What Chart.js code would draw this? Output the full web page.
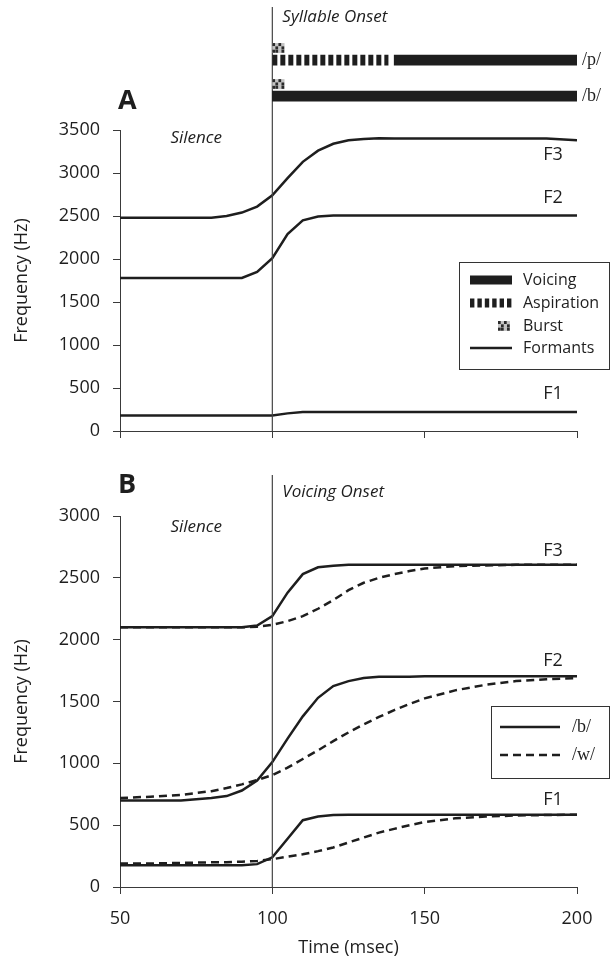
<!DOCTYPE html>
<html>
<head>
<meta charset="utf-8">
<script src="https://cdn.jsdelivr.net/npm/chart.js@4.4.1/dist/chart.umd.min.js"></script>
<style>
  html, body { margin: 0; padding: 0; background: #ffffff; }
  #wrap { position: relative; width: 612px; height: 972px; overflow: hidden; }
  #wrap canvas { position: absolute; left: 0; }
</style>
</head>
<body>
<div id="wrap">
  <canvas id="panelA" width="612" height="460" style="top:0"></canvas>
  <canvas id="cues" width="612" height="130" style="top:0"></canvas>
  <canvas id="panelB" width="612" height="512" style="top:460px"></canvas>
</div>
<script>
// ---- data ---------------------------------------------------------------
// Sample times shared by every formant track (msec)
const timeMs = [50, 60, 70, 80, 85, 90, 95, 100, 105, 110, 115, 120, 125, 130, 135, 140, 145, 150, 160, 170, 180, 190, 200];

// Panel A: formant tracks for the stop consonants (Hz)
const aF1 = [180, 180, 180, 180, 180, 180, 180, 180, 205, 220, 220, 220, 220, 220, 220, 220, 220, 220, 220, 220, 220, 220, 220];
const aF2 = [1780, 1780, 1780, 1780, 1780, 1780, 1850, 2010, 2290, 2450, 2495, 2505, 2505, 2505, 2505, 2505, 2505, 2505, 2505, 2505, 2505, 2505, 2505];
const aF3 = [2480, 2480, 2480, 2480, 2500, 2540, 2610, 2740, 2940, 3130, 3260, 3340, 3380, 3395, 3405, 3400, 3400, 3400, 3400, 3400, 3400, 3400, 3380];

// Panel B: /b/ (solid) versus /w/ (dashed) formant tracks (Hz)
const bF1 = [175, 175, 175, 175, 175, 175, 185, 240, 390, 540, 570, 583, 585, 585, 585, 585, 585, 585, 585, 585, 585, 585, 585];
const bF2 = [700, 700, 700, 720, 735, 780, 860, 1010, 1200, 1380, 1530, 1625, 1665, 1690, 1700, 1700, 1700, 1705, 1705, 1705, 1705, 1705, 1705];
const bF3 = [2100, 2100, 2100, 2100, 2100, 2100, 2115, 2190, 2380, 2530, 2585, 2598, 2605, 2605, 2605, 2605, 2605, 2605, 2605, 2605, 2605, 2605, 2605];
const wF1 = [190, 190, 195, 200, 200, 205, 210, 225, 245, 265, 290, 320, 360, 400, 440, 470, 500, 525, 555, 570, 578, 582, 585];
const wF2 = [720, 730, 745, 775, 800, 830, 865, 905, 965, 1035, 1105, 1180, 1250, 1315, 1375, 1430, 1480, 1525, 1590, 1635, 1665, 1680, 1690];
const wF3 = [2100, 2100, 2100, 2100, 2100, 2100, 2105, 2120, 2150, 2190, 2250, 2320, 2400, 2460, 2500, 2530, 2555, 2575, 2595, 2600, 2605, 2605, 2605];

// Source cues above panel A, one row per syllable (msec spans)
const cueRows = ['/p/', '/b/'];
const voicingSpans = [[140, 200], [100, 200]];
const aspirationSpans = [[100, 138], null];
const burstSpans = [[100, 104], [100, 104]];

// Axis ticks and labels
const xTicks = [50, 100, 150, 200];
const yTicksA = [0, 500, 1000, 1500, 2000, 2500, 3000, 3500];
const yTicksB = [0, 500, 1000, 1500, 2000, 2500, 3000];
const formantNames = ['F1', 'F2', 'F3'];
const onsetMs = 100;
const legendA = ['Voicing', 'Aspiration', 'Burst', 'Formants'];
const legendB = ['/b/', '/w/'];

// ---- styling ------------------------------------------------------------
const SANS = "'Open Sans', 'DejaVu Sans', sans-serif";
const SERIF = "'Liberation Serif', 'DejaVu Serif', serif";
const INK = '#1e1e1e';
const AXIS = '#3a3a3a';
const LINE_W = 2.5;
const DASH = [8, 5];

Chart.defaults.font.family = SANS;
Chart.defaults.color = INK;

const pts = ys => timeMs.map((t, i) => ({ x: t, y: ys[i] }));
const setTicks = list => scale => { scale.ticks = list.map(v => ({ value: v })); };
const plainNumber = v => String(v);

function text(ctx, s, x, y, font, align = 'left', color = INK) {
  ctx.save();
  ctx.font = font;
  ctx.fillStyle = color;
  ctx.textAlign = align;
  ctx.textBaseline = 'middle';
  ctx.fillText(s, x, y);
  ctx.restore();
}

// small speckled square marking the release burst
function drawBurst(ctx, x0, x1, yTop, h) {
  const shade = [[1, 0, 1, 0], [0, 1, 0, 1], [1, 1, 0, 1]];
  const rows = shade.length, cols = shade[0].length;
  const cw = (x1 - x0) / cols, ch = h / rows;
  ctx.save();
  ctx.fillStyle = '#c4c4c4';
  ctx.fillRect(x0, yTop, x1 - x0, h);
  ctx.fillStyle = '#2a2a2a';
  for (let r = 0; r < rows; r++) {
    for (let c = 0; c < cols; c++) {
      if (shade[r][c]) ctx.fillRect(x0 + c * cw, yTop + r * ch, cw * 0.9, ch * 0.9);
    }
  }
  ctx.restore();
}

function onsetLine(ctx, chart, topY) {
  const x = chart.scales.x.getPixelForValue(onsetMs);
  ctx.save();
  ctx.strokeStyle = '#454545';
  ctx.lineWidth = 1.2;
  ctx.beginPath();
  ctx.moveTo(x, topY);
  ctx.lineTo(x, chart.chartArea.bottom);
  ctx.stroke();
  ctx.restore();
}

function formantLabels(ctx, chart, finals, offsets) {
  const xs = chart.scales.x, ys = chart.scales.y;
  const x = xs.getPixelForValue(xTicks[xTicks.length - 1]) - 24;
  formantNames.forEach((name, i) => {
    text(ctx, name, x, ys.getPixelForValue(finals[i]) + offsets[i], '18px ' + SANS, 'center');
  });
}

function legendBox(ctx, left, top, w, h) {
  ctx.save();
  ctx.fillStyle = '#ffffff';
  ctx.fillRect(left, top, w, h);
  ctx.strokeStyle = '#333333';
  ctx.lineWidth = 1;
  ctx.strokeRect(left + 0.5, top + 0.5, w, h);
  ctx.restore();
}

// ---- panel A --------------------------------------------------------------
const annotateA = {
  id: 'annotateA',
  afterDraw(chart) {
    const ctx = chart.ctx, area = chart.chartArea, xs = chart.scales.x;
    onsetLine(ctx, chart, 7);
    text(ctx, 'A', area.left - 2, area.top - 29, 'bold 27px ' + SANS);
    text(ctx, 'Silence', xs.getPixelForValue(75), area.top + 8, 'italic 17px ' + SANS, 'center');
    text(ctx, 'Syllable Onset', xs.getPixelForValue(onsetMs) + 10, 17, 'italic 17px ' + SANS);
    const last = timeMs.length - 1;
    formantLabels(ctx, chart, [aF1[last], aF2[last], aF3[last]], [-18, -18, 15]);

    // legend
    const lx = area.right - 118, ly = area.top + 132;
    legendBox(ctx, lx, ly, 150, 107);
    const sx = lx + 11, sw = 42, tx = lx + 64;
    const rowY = [ly + 18, ly + 41, ly + 64, ly + 86];
    ctx.save();
    ctx.fillStyle = INK;
    ctx.fillRect(sx, rowY[0] - 4.5, sw, 9);
    for (let k = 0; k < 6; k++) ctx.fillRect(sx + k * 7.4, rowY[1] - 4.5, 4.4, 9);
    ctx.restore();
    drawBurst(ctx, sx + 28, sx + 40, rowY[2] - 5, 10);
    ctx.save();
    ctx.strokeStyle = INK;
    ctx.lineWidth = LINE_W;
    ctx.beginPath();
    ctx.moveTo(sx, rowY[3]);
    ctx.lineTo(sx + sw, rowY[3]);
    ctx.stroke();
    ctx.restore();
    legendA.forEach((s, i) => text(ctx, s, tx, rowY[i], '16px ' + SANS));
  }
};

function axisCommon(ticksList, extra) {
  return Object.assign({
    afterBuildTicks: setTicks(ticksList),
    grid: { drawOnChartArea: false, tickLength: 7, color: AXIS, lineWidth: 1 },
    border: { color: AXIS, width: 1 }
  }, extra);
}

new Chart(document.getElementById('panelA'), {
  type: 'line',
  data: {
    datasets: [aF1, aF2, aF3].map(ys => ({
      data: pts(ys), borderColor: INK, borderWidth: LINE_W, pointRadius: 0, fill: false, tension: 0
    }))
  },
  options: {
    responsive: false, animation: false, events: [],
    layout: { padding: { top: 130, right: 35, bottom: 21, left: 0 } },
    plugins: { legend: { display: false }, tooltip: { enabled: false } },
    scales: {
      x: axisCommon(xTicks, {
        type: 'linear', min: 50, max: 200,
        ticks: { display: false },
        afterFit: s => { s.height = 8; }
      }),
      y: axisCommon(yTicksA, {
        type: 'linear', min: 0, max: 3500,
        ticks: { font: { size: 18 }, color: INK, padding: 13, callback: plainNumber },
        title: { display: true, text: 'Frequency (Hz)', font: { size: 18 }, color: INK, padding: { top: 11, bottom: 0 } },
        afterFit: s => { s.width = 120; }
      })
    }
  },
  plugins: [annotateA]
});

// ---- source cues (/p/ and /b/ rows) ----------------------------------------
const cueCanvas = document.getElementById('cues');
const stripe = document.createElement('canvas');
stripe.width = 8; stripe.height = 1;
const sctx = stripe.getContext('2d');
sctx.fillStyle = INK;
sctx.fillRect(0, 0, 5, 1);
const aspirationFill = cueCanvas.getContext('2d').createPattern(stripe, 'repeat');

const cueMarks = {
  id: 'cueMarks',
  beforeDatasetsDraw(chart) {
    const x0 = chart.scales.x.getPixelForValue(onsetMs);
    aspirationFill.setTransform(new DOMMatrix([1, 0, 0, 1, x0, 0]));
  },
  afterDatasetsDraw(chart) {
    const ctx = chart.ctx, xs = chart.scales.x, ys = chart.scales.y;
    const barH = chart.data.datasets[0].barThickness;
    burstSpans.forEach((span, i) => {
      if (!span) return;
      const yc = ys.getPixelForValue(i);
      drawBurst(ctx, xs.getPixelForValue(span[0]), xs.getPixelForValue(span[1]), yc - barH / 2 - 12, 10);
    });
  }
};

new Chart(cueCanvas, {
  type: 'bar',
  data: {
    labels: cueRows,
    datasets: [
      { data: voicingSpans, backgroundColor: INK, barThickness: 10, grouped: false, borderWidth: 0, borderSkipped: false },
      { data: aspirationSpans, backgroundColor: aspirationFill, barThickness: 10, grouped: false, borderWidth: 0, borderSkipped: false }
    ]
  },
  options: {
    indexAxis: 'y',
    responsive: false, animation: false, events: [],
    layout: { padding: { top: 42, right: 0, bottom: 8, left: 120 } },
    plugins: { legend: { display: false }, tooltip: { enabled: false } },
    scales: {
      x: { type: 'linear', min: 50, max: 200, display: false },
      y: {
        type: 'category', position: 'right',
        grid: { display: false, drawTicks: false },
        border: { display: false },
        ticks: { font: { family: SERIF, size: 18 }, color: INK, padding: 5 },
        afterFit: s => { s.width = 35; }
      }
    }
  },
  plugins: [cueMarks]
});

// ---- panel B --------------------------------------------------------------
const annotateB = {
  id: 'annotateB',
  afterDraw(chart) {
    const ctx = chart.ctx, area = chart.chartArea, xs = chart.scales.x;
    onsetLine(ctx, chart, area.top - 41);
    text(ctx, 'B', area.left - 2, area.top - 31, 'bold 27px ' + SANS);
    text(ctx, 'Silence', xs.getPixelForValue(75), area.top + 11, 'italic 17px ' + SANS, 'center');
    text(ctx, 'Voicing Onset', xs.getPixelForValue(onsetMs) + 10, area.top - 24, 'italic 17px ' + SANS);
    const last = timeMs.length - 1;
    formantLabels(ctx, chart,
      [Math.max(bF1[last], wF1[last]), Math.max(bF2[last], wF2[last]), Math.max(bF3[last], wF3[last])],
      [-15, -15, -14]);

    // legend
    const lx = area.right - 86, ly = area.top + 190;
    legendBox(ctx, lx, ly, 118, 72);
    const rowY = [ly + 21, ly + 49];
    ctx.save();
    ctx.strokeStyle = INK;
    ctx.lineWidth = LINE_W;
    rowY.forEach((y, i) => {
      ctx.setLineDash(i === 0 ? [] : DASH);
      ctx.beginPath();
      ctx.moveTo(lx + 9, y);
      ctx.lineTo(lx + 69, y);
      ctx.stroke();
    });
    ctx.restore();
    legendB.forEach((s, i) => text(ctx, s, lx + 81, rowY[i], '18px ' + SERIF));
  }
};

const solid = ys => ({ data: pts(ys), borderColor: INK, borderWidth: LINE_W, pointRadius: 0, fill: false, tension: 0 });
const dashed = ys => Object.assign(solid(ys), { borderDash: DASH });

new Chart(document.getElementById('panelB'), {
  type: 'line',
  data: {
    datasets: [dashed(wF1), dashed(wF2), dashed(wF3), solid(bF1), solid(bF2), solid(bF3)]
  },
  options: {
    responsive: false, animation: false, events: [],
    layout: { padding: { top: 56, right: 35, bottom: 0, left: 0 } },
    plugins: { legend: { display: false }, tooltip: { enabled: false } },
    scales: {
      x: axisCommon(xTicks, {
        type: 'linear', min: 50, max: 200,
        ticks: { font: { size: 18 }, color: INK, padding: 14, maxRotation: 0, callback: plainNumber },
        title: { display: true, text: 'Time (msec)', font: { size: 18 }, color: INK, padding: { top: 0, bottom: 13 } },
        afterFit: s => { s.height = 85; }
      }),
      y: axisCommon(yTicksB, {
        type: 'linear', min: 0, max: 3000,
        ticks: { font: { size: 18 }, color: INK, padding: 13, callback: plainNumber },
        title: { display: true, text: 'Frequency (Hz)', font: { size: 18 }, color: INK, padding: { top: 11, bottom: 0 } },
        afterFit: s => { s.width = 120; }
      })
    }
  },
  plugins: [annotateB]
});
</script>
</body>
</html>
